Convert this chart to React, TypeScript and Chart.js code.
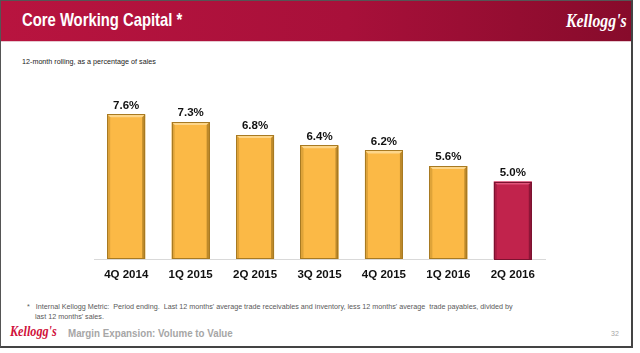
import React, { useEffect, useRef } from "react";
import { Chart, registerables } from "chart.js";

Chart.register(...registerables);

const categories = ["4Q 2014", "1Q 2015", "2Q 2015", "3Q 2015", "4Q 2015", "1Q 2016", "2Q 2016"];
const values = [7.6, 7.3, 6.8, 6.4, 6.2, 5.6, 5.0];
const barColors = ["#FBB946", "#FBB946", "#FBB946", "#FBB946", "#FBB946", "#FBB946", "#C1234C"];
const edgeColors = ["#A87A22", "#A87A22", "#A87A22", "#A87A22", "#A87A22", "#A87A22", "#7C1230"];
const lightColors = ["#FDD68A", "#FDD68A", "#FDD68A", "#FDD68A", "#FDD68A", "#FDD68A", "#E0557A"];
const valueLabels = values.map((v) => v.toFixed(1) + "%");
const axisMin = 2;
const axisMax = 8;

const bevelPlugin = {
  id: "bevel",
  afterDatasetsDraw(chart: any) {
    const ctx = chart.ctx;
    const meta = chart.getDatasetMeta(0);
    const bottom = chart.chartArea.bottom;
    meta.data.forEach((bar: any, i: number) => {
      const p = bar.getProps(["x", "y", "base", "width"], true);
      const x = p.x;
      const y = p.y;
      const base = Math.min(p.base, bottom);
      const width = p.width;
      const l = x - width / 2;
      const r = x + width / 2;
      const b = 3;
      ctx.save();
      ctx.fillStyle = lightColors[i];
      ctx.beginPath();
      ctx.moveTo(l, y);
      ctx.lineTo(r, y);
      ctx.lineTo(r - b, y + b);
      ctx.lineTo(l + b, y + b);
      ctx.closePath();
      ctx.fill();
      ctx.fillStyle = edgeColors[i];
      ctx.globalAlpha = 0.75;
      ctx.beginPath();
      ctx.moveTo(r, y);
      ctx.lineTo(r, base);
      ctx.lineTo(r - b, base);
      ctx.lineTo(r - b, y + b);
      ctx.closePath();
      ctx.fill();
      ctx.globalAlpha = 0.35;
      ctx.beginPath();
      ctx.moveTo(l, y);
      ctx.lineTo(l + b, y + b);
      ctx.lineTo(l + b, base);
      ctx.lineTo(l, base);
      ctx.closePath();
      ctx.fill();
      ctx.globalAlpha = 1;
      ctx.strokeStyle = edgeColors[i];
      ctx.lineWidth = 1;
      ctx.strokeRect(Math.round(l) + 0.5, Math.round(y) + 0.5, Math.round(width) - 1, Math.round(base - y) - 1);
      ctx.fillStyle = "#111111";
      ctx.font = "bold 11.5px 'Liberation Sans', Arial, sans-serif";
      ctx.textAlign = "center";
      ctx.textBaseline = "middle";
      ctx.fillText(valueLabels[i], x, y - 9);
      ctx.restore();
    });
  },
};

function BarChart() {
  const ref = useRef<HTMLCanvasElement | null>(null);
  useEffect(() => {
    if (!ref.current) return;
    const chart = new Chart(ref.current, {
      type: "bar",
      data: {
        labels: categories,
        datasets: [
          {
            data: values,
            base: axisMin,
            backgroundColor: barColors,
            borderWidth: 0,
            barPercentage: 0.59,
            categoryPercentage: 1,
          },
        ],
      },
      options: {
        animation: false,
        responsive: true,
        maintainAspectRatio: false,
        layout: { padding: { left: 14, right: 15, top: 14, bottom: 0 } },
        plugins: { legend: { display: false }, tooltip: { enabled: false } },
        scales: {
          y: { display: false, min: axisMin, max: axisMax },
          x: {
            afterFit: (scale: any) => {
              scale.height = 31;
            },
            grid: { display: false, drawTicks: false },
            border: { display: true, color: "#D9D9D9", width: 1 },
            ticks: {
              padding: 9,
              color: "#111111",
              font: { family: "'Liberation Sans', Arial, sans-serif", size: 11.5, weight: "bold" },
            },
          },
        },
      },
      plugins: [bevelPlugin],
    });
    return () => chart.destroy();
  }, []);
  return <canvas ref={ref} />;
}

export default function App() {
  return (
    <div
      style={{
        position: "absolute",
        left: 0,
        top: 0,
        width: 630,
        height: 345,
        borderTop: "1px solid #555",
        borderLeft: "1px solid #555",
        borderRight: "2px solid #444",
        borderBottom: "2px solid #444",
        background: "#fff",
        fontFamily: "'Liberation Sans', Arial, sans-serif",
        overflow: "hidden",
      }}
    >
      <div
        style={{
          position: "absolute",
          left: 0,
          top: 0,
          width: 630,
          height: 40,
          background: "linear-gradient(to right, #B8143F 0%, #A8103A 55%, #870B2B 100%)",
          borderBottom: "1px solid #E6C9D0",
        }}
      >
        <div
          style={{
            position: "absolute",
            left: 21,
            top: 8,
            color: "#fff",
            fontWeight: "bold",
            fontSize: 19,
            lineHeight: "22px",
            whiteSpace: "nowrap",
            transform: "scaleX(0.78)",
            transformOrigin: "left center",
          }}
        >
          Core Working Capital *
        </div>
        <div
          style={{
            position: "absolute",
            left: 565,
            top: 9,
            color: "#fff",
            fontFamily: "'Liberation Serif', 'DejaVu Serif', serif",
            fontStyle: "italic",
            fontWeight: "bold",
            fontSize: 18,
            lineHeight: "22px",
            whiteSpace: "nowrap",
            transform: "scaleX(0.88)",
            transformOrigin: "left center",
          }}
        >
          Kellogg's
        </div>
      </div>
      <div
        style={{
          position: "absolute",
          left: 21,
          top: 56,
          fontSize: 7.2,
          color: "#222",
          whiteSpace: "nowrap",
        }}
      >
        12-month rolling, as a percentage of sales
      </div>
      <div style={{ position: "absolute", left: 79, top: 89, width: 480, height: 200 }}>
        <BarChart />
      </div>
      <div
        style={{
          position: "absolute",
          left: 26,
          top: 301,
          fontSize: 7.2,
          lineHeight: "10px",
          color: "#595959",
          whiteSpace: "nowrap",
        }}
      >
        <div>
          *&nbsp;&nbsp; Internal Kellogg Metric:&nbsp; Period ending.&nbsp; Last 12 months' average trade receivables and inventory, less 12 months' average&nbsp; trade payables, divided by
        </div>
        <div style={{ paddingLeft: 8 }}>last 12 months' sales.</div>
      </div>
      <div
        style={{
          position: "absolute",
          left: 9,
          top: 322,
          color: "#D0103A",
          fontFamily: "'Liberation Serif', 'DejaVu Serif', serif",
          fontStyle: "italic",
          fontWeight: "bold",
          fontSize: 14,
          lineHeight: "18px",
          whiteSpace: "nowrap",
          transform: "scaleX(0.87)",
          transformOrigin: "left center",
        }}
      >
        Kellogg's
      </div>
      <div
        style={{
          position: "absolute",
          left: 67,
          top: 325,
          color: "#A6A6A6",
          fontWeight: "bold",
          fontSize: 10.5,
          lineHeight: "14px",
          whiteSpace: "nowrap",
          transform: "scaleX(0.93)",
          transformOrigin: "left center",
        }}
      >
        Margin Expansion: Volume to Value
      </div>
      <div
        style={{
          position: "absolute",
          left: 610,
          top: 328,
          color: "#A6A6A6",
          fontSize: 7,
          lineHeight: "10px",
        }}
      >
        32
      </div>
    </div>
  );
}
